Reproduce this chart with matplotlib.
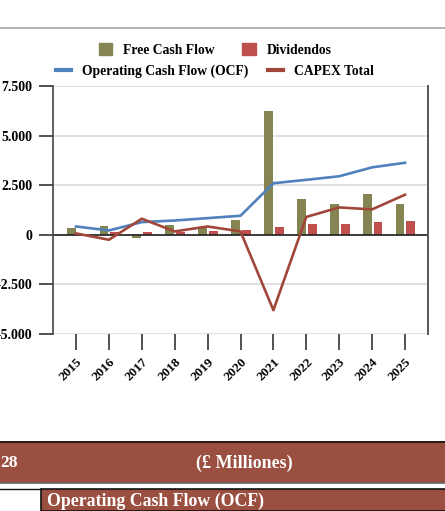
import numpy as np
import matplotlib
matplotlib.use("Agg")
import matplotlib.pyplot as plt
import matplotlib.transforms as mtransforms
from matplotlib.patches import Rectangle
from matplotlib.lines import Line2D
from matplotlib.ticker import FuncFormatter

# data (£ millions)
years = ['2015', '2016', '2017', '2018', '2019', '2020', '2021', '2022', '2023', '2024', '2025']
free_cash_flow = [350, 450, -170, 500, 390, 760, 6250, 1800, 1560, 2060, 1570]
dividendos = [40, 140, 150, 140, 190, 230, 370, 560, 560, 620, 690]
ocf = [420, 220, 640, 720, 840, 960, 2600, 2770, 2950, 3400, 3630]
capex_total = [70, -250, 810, 170, 420, 170, -3800, 900, 1380, 1280, 2020]

C_FCF = '#858553'
C_DIV = '#c0504d'
C_OCF = '#4f81bd'
C_CAPEX = '#a0473a'
C_BAND = '#9b4f40'

plt.rcParams['font.family'] = ['Liberation Serif', 'DejaVu Serif']
plt.rcParams['font.weight'] = 'bold'

W, H = 445, 511
fig = plt.figure(figsize=(W / 100, H / 100), dpi=100)

# plot area
ax = fig.add_axes([53 / W, 1 - 334 / H, 375 / W, 248 / H])
x = np.arange(len(years))
bw = 0.27
ax.bar(x - 0.15, free_cash_flow, bw, color=C_FCF, zorder=2)
ax.bar(x + 0.18, dividendos, bw, color=C_DIV, zorder=2)
ax.plot(x, ocf, color=C_OCF, lw=1.9, zorder=3)
ax.plot(x, capex_total, color=C_CAPEX, lw=1.9, zorder=3)

ax.set_xlim(-0.7, len(years) - 0.3)
ax.set_ylim(-5000, 7500)
ax.set_yticks(np.arange(-5000, 7501, 2500))
ax.yaxis.set_major_formatter(FuncFormatter(lambda v, p: f"{v:,.0f}".replace(",", ".")))
ax.grid(axis='y', color='#d9d9d9', lw=1.2, zorder=0)
ax.axhline(0, color='#222222', lw=1.2, zorder=2.5)

ax.set_xticks(x)
ax.set_xticklabels(years, rotation=45)
ax.tick_params(axis='x', length=11.5, width=1.1, color='#222222', pad=4, labelsize=9.5)
ax.tick_params(axis='y', length=10, width=1.1, color='#222222', pad=5, labelsize=10)
shift = mtransforms.ScaledTranslation(-5 / 100, 0, fig.dpi_scale_trans)
for lbl in ax.get_xticklabels():
    lbl.set_transform(lbl.get_transform() + shift)

for side in ['top', 'bottom']:
    ax.spines[side].set_visible(False)
ax.spines['left'].set_color('#444444')
ax.spines['left'].set_linewidth(1.2)
ax.spines['right'].set_color('#555555')
ax.spines['right'].set_linewidth(1.4)

# legends: bars on first row, lines on second
bar_handles = [Rectangle((0, 0), 1, 1, color=C_FCF), Rectangle((0, 0), 1, 1, color=C_DIV)]
fig.legend(bar_handles, ['Free Cash Flow', 'Dividendos'], loc='center',
           bbox_to_anchor=(215 / W, 1 - 50 / H), ncol=2, frameon=False,
           fontsize=9.8, handlelength=1.0, handleheight=1.0, columnspacing=2.0,
           handletextpad=0.8)
line_handles = [Line2D([], [], color=C_OCF, lw=3), Line2D([], [], color=C_CAPEX, lw=3)]
fig.legend(line_handles, ['Operating Cash Flow (OCF)', 'CAPEX Total'], loc='center',
           bbox_to_anchor=(215 / W, 1 - 71 / H), ncol=2, frameon=False,
           fontsize=9.8, handlelength=1.1, columnspacing=1.5, handletextpad=0.8)

# chart border at top
fig.add_artist(Line2D([0, 1], [1 - 28 / H, 1 - 28 / H], color='#a6a6a6', lw=1.2))

# table rows below the chart
fig.add_artist(Rectangle((0, 1 - 483 / H), 1, 42 / H, facecolor=C_BAND,
                         edgecolor='none'))
fig.add_artist(Line2D([0, 1], [1 - 442 / H] * 2, color='#111111', lw=1.2))
fig.add_artist(Line2D([0, 1], [1 - 483 / H] * 2, color='#666666', lw=1.2))
fig.text(0 / W, 1 - 463 / H, '28', color='white', fontsize=12.5, va='center', ha='left')
fig.text(244 / W, 1 - 463 / H, '(£ Milliones)', color='white', fontsize=13,
         va='center', ha='center')

fig.add_artist(Rectangle((41 / W, 0), 1, 22 / H, facecolor=C_BAND,
                         edgecolor='#111111', lw=1.2))
fig.add_artist(Line2D([0, 41 / W], [1 - 489 / H] * 2, color='#111111', lw=1.0))
fig.text(47 / W, 1 - 501 / H, 'Operating Cash Flow (OCF)', color='white',
         fontsize=12.8, va='center', ha='left')

fig.savefig('out.png', dpi=100)
